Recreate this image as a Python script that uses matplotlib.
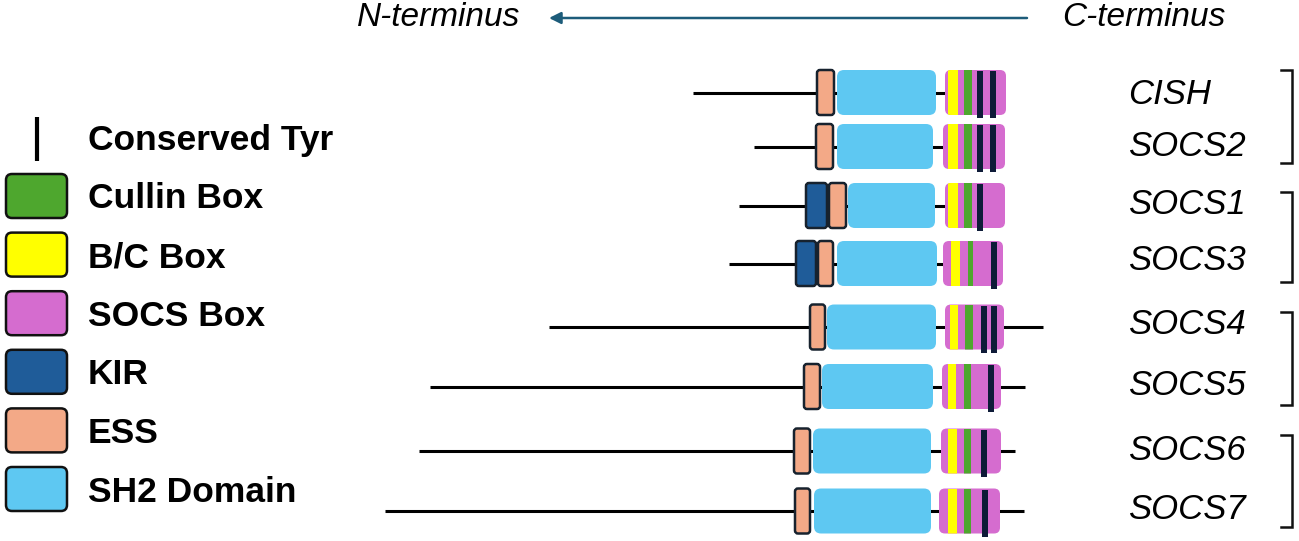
import matplotlib
matplotlib.use("Agg")
import matplotlib.pyplot as plt
from matplotlib.patches import FancyBboxPatch

plt.rcParams["font.family"] = ["Liberation Sans", "DejaVu Sans"]

# ---- Domain layout per gene (positions in figure pixel units) ----
genes = ["CISH", "SOCS2", "SOCS1", "SOCS3", "SOCS4", "SOCS5", "SOCS6", "SOCS7"]
row_y = [92.5, 146.5, 205.5, 263.5, 327, 386.5, 451, 511]
label_y = [94, 146, 204.5, 260.5, 324.5, 385.5, 450.5, 509.5]
line_start = [693, 754, 739, 729, 549, 430, 419, 385]
line_end = [945, 943, 945, 943, 1043, 1025, 1015, 1024]
kir_start = [None, None, 806, 796, None, None, None, None]
kir_end = [None, None, 827, 816, None, None, None, None]
ess_start = [817, 816, 829, 818, 810, 804, 794, 795]
ess_end = [834, 833, 846, 833, 825, 820, 810, 810]
sh2_start = [837, 837, 848, 837, 827, 822, 813, 814]
sh2_end = [936, 933, 935, 937, 936, 933, 931, 931]
socs_start = [945, 943, 945, 943, 945, 942, 941, 939]
socs_end = [1006, 1005, 1005, 1003, 1004, 1001, 1001, 1000]
bc_start = [948, 948, 948, 951, 950, 948, 948, 948]
bc_end = [958, 958, 958, 960, 958, 956, 957, 957]
cul_start = [964, 964, 964, 968, 965, 964, 964, 964]
cul_end = [972, 972, 972, 973, 973, 971, 971, 971]
tyr_pos = [[977, 990], [977, 990], [977], [991], [981, 991], [988], [981], [982]]

# subfamily brackets (top, bottom)
bracket_top = [70, 192, 312, 435]
bracket_bot = [163, 282, 405, 527]

legend_labels = ["Cullin Box", "B/C Box", "SOCS Box", "KIR", "ESS", "SH2 Domain"]

C_LINE = "#000000"
C_EDGE = "#17222E"
C_ESS = "#F3A987"
C_KIR = "#1F5C99"
C_SH2 = "#5EC8F2"
C_SOCS = "#D56CCF"
C_BC = "#FFFF00"
C_CUL = "#4EA72E"
C_TYR = "#0E1B38"
legend_colors = [C_CUL, C_BC, C_SOCS, C_KIR, C_ESS, C_SH2]

H = 45  # domain height

fig = plt.figure(figsize=(12.99, 5.41), dpi=100)
ax = fig.add_axes([0, 0, 1, 1])
ax.set_xlim(0, 1299)
ax.set_ylim(541, 0)
ax.set_aspect("equal")
ax.axis("off")


def box(x0, x1, yc, color, edge=None, r=4, lw=0, z=3, h=H):
    p = FancyBboxPatch((x0, yc - h / 2), x1 - x0, h,
                       boxstyle=f"round,pad=0,rounding_size={r}",
                       facecolor=color, edgecolor=edge if edge else "none",
                       linewidth=lw, zorder=z)
    ax.add_patch(p)
    return p


for i, g in enumerate(genes):
    y = row_y[i]
    ax.plot([line_start[i], line_end[i]], [y, y], color=C_LINE, lw=2.2,
            solid_capstyle="butt", zorder=1)
    if kir_start[i] is not None:
        box(kir_start[i], kir_end[i], y, C_KIR, C_EDGE, r=3, lw=1.8, z=4)
    box(ess_start[i], ess_end[i], y, C_ESS, C_EDGE, r=3, lw=1.8, z=4)
    box(sh2_start[i], sh2_end[i], y, C_SH2, r=7, z=3)
    sb = box(socs_start[i], socs_end[i], y, C_SOCS, r=6, z=3)
    for x0, x1, c in [(bc_start[i], bc_end[i], C_BC), (cul_start[i], cul_end[i], C_CUL)]:
        st = ax.add_patch(plt.Rectangle((x0, y - H / 2), x1 - x0, H,
                                        facecolor=c, edgecolor="none", zorder=4))
        st.set_clip_path(sb)
    for tx in tyr_pos[i]:
        ax.add_patch(plt.Rectangle((tx, y - H / 2 + 1), 6.5, H + 2,
                                   facecolor=C_TYR, edgecolor="none", zorder=5))
    ax.text(1128, label_y[i], g, fontsize=25, style="italic", ha="left", va="center")

for t, b in zip(bracket_top, bracket_bot):
    ax.plot([1281, 1292, 1292, 1281], [t, t, b, b], color="#111111", lw=1.8,
            solid_joinstyle="miter", zorder=2)

# direction arrow
ax.annotate("", xy=(549, 18), xytext=(1027, 18),
            arrowprops=dict(arrowstyle="-|>,head_length=0.7,head_width=0.35",
                            color="#1D5C7A", lw=1.8, shrinkA=0, shrinkB=0))
ax.text(520, 18, "N-terminus", fontsize=24, style="italic", ha="right", va="center")
ax.text(1062, 18, "C-terminus", fontsize=24, style="italic", ha="left", va="center")

# legend
ax.plot([37, 37], [117, 161], color="#000000", lw=3, solid_capstyle="butt")
ax.text(88, 150, "Conserved Tyr", fontsize=25.5, fontweight="bold", ha="left", va="baseline")
for k, (lab, c) in enumerate(zip(legend_labels, legend_colors)):
    yc = 196 + k * 58.6
    box(6, 67, yc, c, "#111111", r=6, lw=1.8, z=3, h=44)
    ax.text(88, yc + 12.5, lab, fontsize=25.5, fontweight="bold", ha="left", va="baseline")

fig.savefig("out.png", dpi=100)
